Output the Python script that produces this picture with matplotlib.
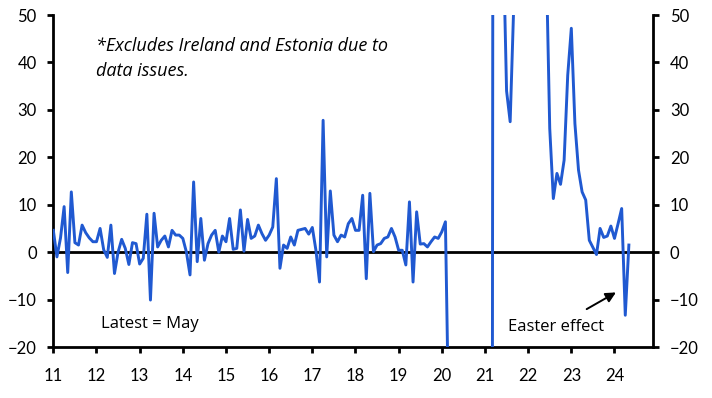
import matplotlib
matplotlib.use("Agg")
import matplotlib.pyplot as plt
import numpy as np

plt.rcParams["font.family"] = ["Lato", "DejaVu Sans"]

# monthly % y/y, Jan 2011 - May 2024 (values outside -20..50 are off the chart)
values_2011_2014 = [4.6, -1.0, 3.0, 9.6, -4.3, 12.7, 2.0, 1.5, 5.7, 4.1, 3.0, 2.2,
                    2.2, 5.0, 0.5, -1.1, 5.7, -4.5, 0.0, 2.7, 0.8, -2.6, 2.0, 1.8,
                    -2.5, -1.3, 8.0, -10.1, 8.2, 1.1, 2.5, 3.4, 1.1, 4.6, 3.6, 3.6,
                    2.9, 0.0, -4.8, 14.8, -2.0, 7.1, -1.7, 1.8, 3.6, 4.6, 0.0, 3.4]
values_2015_2018 = [2.2, 7.1, 0.6, 0.8, 8.9, 0.2, 6.9, 2.9, 3.4, 5.7, 3.9, 2.5,
                    3.6, 5.3, 15.5, -3.4, 1.5, 0.8, 3.2, 1.5, 4.6, 4.8, 5.0, 3.8,
                    5.2, 0.4, -6.3, 27.8, -1.0, 12.9, 3.6, 2.2, 3.6, 3.2, 6.0, 7.1,
                    4.6, 4.6, 12.0, -5.6, 12.4, 0.1, 1.5, 1.8, 2.9, 3.2, 5.0, 3.2]
values_2019_2021 = [0.4, 0.4, -2.7, 10.6, -6.3, 8.5, 1.7, 1.8, 1.1, 2.2, 3.2, 2.9,
                    4.3, 6.4, -40.0, -90.0, -88.0, -80.0, -70.0, -65.0, -68.0, -72.0, -80.0, -85.0,
                    -85.0, -83.0, -75.0, 700.0, 200.0, 68.0, 34.0, 27.5, 52.0, 80.0, 110.0, 120.0]
values_2022_2024 = [95.0, 90.0, 100.0, 130.0, 90.0, 63.0, 26.1, 11.3, 16.6, 14.3, 19.4, 37.3,
                    47.2, 27.1, 17.3, 12.7, 11.0, 2.5, 1.0, -0.5, 5.0, 3.1, 3.4, 5.5,
                    2.9, 6.0, 9.2, -13.3, 1.5]

values = values_2011_2014 + values_2015_2018 + values_2019_2021 + values_2022_2024
start_year = 2011
dates = start_year + np.arange(len(values)) / 12

year_ticks = list(range(2011, 2025))
year_labels = [str(y)[2:] for y in year_ticks]
y_ticks = list(range(-20, 51, 10))

fig = plt.figure(figsize=(7.12, 3.98), dpi=100)
ax = fig.add_axes([0.0749, 0.1281, 0.8427, 0.8342])

ax.plot(dates, values, color="#2059d1", lw=2.1, zorder=3)
ax.axhline(0, color="black", lw=2.0, zorder=2)

ax.set_xlim(2011, 2024.9)
ax.set_ylim(-20, 50)
ax.set_xticks(year_ticks)
ax.set_xticklabels(year_labels)
ax.set_yticks(y_ticks)

ax.spines["top"].set_visible(False)
for s in ["left", "right", "bottom"]:
    ax.spines[s].set_linewidth(2.0)
ax.tick_params(axis="both", direction="out", length=4, width=2.0, labelsize=12,
               colors="black")
ax.tick_params(axis="y", right=True, labelright=True, pad=8)
ax.tick_params(axis="x", pad=11)

note_font = ["Open Sans", "DejaVu Sans"]
ax.text(2012.0, 45.3, "*Excludes Ireland and Estonia due to\ndata issues.",
        family=note_font, style="italic", fontsize=13, va="top", ha="left",
        linespacing=1.5)
ax.text(2012.1, -15.2, "Latest = May", family=note_font, fontsize=12,
        va="center", ha="left")
ax.text(2021.54, -15.8, "Easter effect", family=note_font, fontsize=12,
        va="center", ha="left")
ax.annotate("", xy=(2024.09, -8.2), xytext=(2023.3, -12.3),
            arrowprops=dict(arrowstyle="-|>", color="black", lw=1.4,
                            mutation_scale=15))

fig.savefig("out.png", dpi=100)
